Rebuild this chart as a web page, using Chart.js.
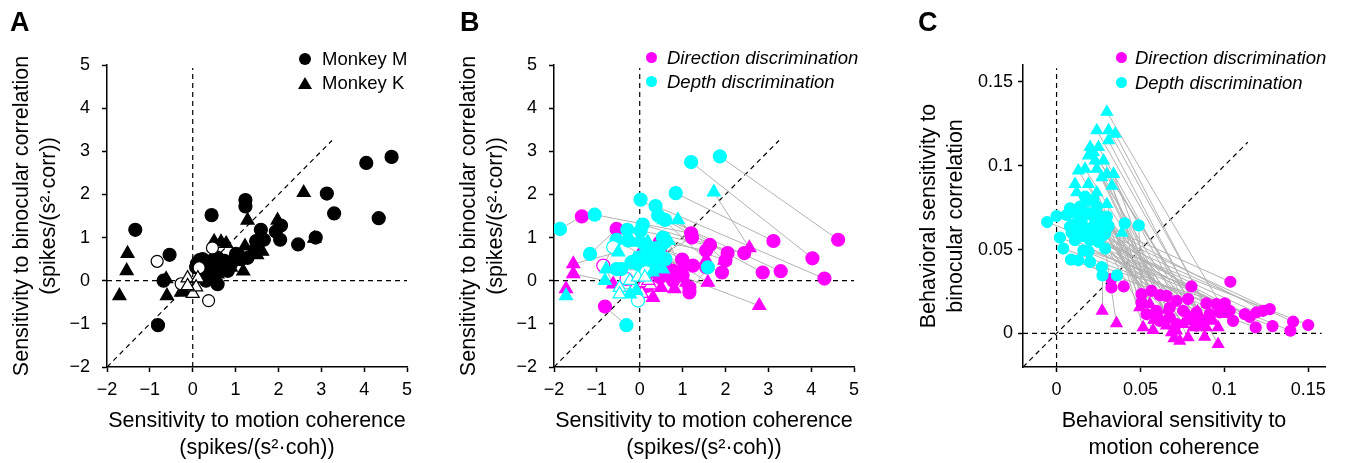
<!DOCTYPE html>
<html>
<head>
<meta charset="utf-8">
<script src="https://cdn.jsdelivr.net/npm/chart.js@4/dist/chart.umd.min.js"></script>
<style>
body{margin:0;background:#fff;font-family:'Liberation Sans',Arial,sans-serif;color:#000}
#wrap{position:relative;width:1345px;height:463px;overflow:hidden}
canvas{position:absolute;top:0}
.tag{position:absolute;font-weight:bold;font-size:27px;line-height:27px}
.txt{position:absolute;font-size:18.5px;line-height:24px;white-space:nowrap}
.it{font-style:italic}
.dot{position:absolute;border-radius:50%}
.tri{position:absolute;clip-path:polygon(50% 0,100% 100%,0 100%);background:#000}
</style>
</head>
<body>
<div id="wrap">
  <canvas id="cA" width="448" height="463" style="left:0"></canvas>
  <canvas id="cB" width="448" height="463" style="left:447px"></canvas>
  <canvas id="cC" width="445" height="463" style="left:900px"></canvas>

  <div class="tag" style="left:10px;top:9px">A</div>
  <div class="tag" style="left:460px;top:9px">B</div>
  <div class="tag" style="left:918px;top:9px">C</div>

  <div class="dot" style="left:299px;top:53px;width:12px;height:12px;background:#000"></div>
  <div class="tri" style="left:298px;top:77px;width:14px;height:12px"></div>
  <div class="txt" style="left:322px;top:47px">Monkey M</div>
  <div class="txt" style="left:322px;top:71px">Monkey K</div>

  <div class="dot" style="left:646px;top:52px;width:11px;height:11px;background:#ff00ff"></div>
  <div class="dot" style="left:646px;top:76px;width:11px;height:11px;background:#00ffff"></div>
  <div class="txt it" style="left:667px;top:46px">Direction discrimination</div>
  <div class="txt it" style="left:667px;top:70px">Depth discrimination</div>

  <div class="dot" style="left:1116px;top:52px;width:11px;height:11px;background:#ff00ff"></div>
  <div class="dot" style="left:1116px;top:77px;width:11px;height:11px;background:#00ffff"></div>
  <div class="txt it" style="left:1135px;top:46px">Direction discrimination</div>
  <div class="txt it" style="left:1135px;top:71px">Depth discrimination</div>
</div>
<script>
'use strict';
// ---- panel A: single neurons, filled = significant, open = n.s.
const aMx = [-1.34,-0.54,-0.68,-0.81,0.44,1.23,1.23,1.59,1.48,1.66,
  1.94,2.06,2.04,2.46,2.87,3.13,3.30,4.05,4.64,4.34,
  0.16,0.23,0.08,0.47,0.58,0.74,0.58,0.35,0.43,0.66,
  0.89,1.13,1.28,1.44,0.31,0.19,0.82,1.01,0.10,0.50];
const aMy = [1.18,0.60,0.00,-1.03,1.52,1.87,1.72,1.18,0.92,0.95,
  1.14,1.28,0.95,0.84,1.00,2.02,1.56,2.73,2.87,1.45,
  0.48,0.50,0.31,0.48,0.53,0.46,-0.08,0.23,0.15,0.31,
  0.39,0.50,0.53,0.70,0.00,0.23,0.23,0.62,0.40,0.35];
const aKx = [-1.71,-1.54,-1.52,-0.60,-0.27,-0.62,0.50,0.66,0.78,1.28,
  1.22,1.18,1.98,2.59,2.84,1.62,1.50,1.44,0.95,1.13,
  0.89,0.74,0.58,0.43,0.27,0.62,1.00,-0.20];
const aKy = [-0.35,0.23,0.63,-0.35,-0.27,0.04,0.91,0.90,0.86,1.40,
  0.80,0.22,1.40,2.04,0.98,0.68,0.60,0.62,0.54,0.60,
  0.31,0.23,0.15,0.08,0.04,0.40,0.45,-0.25];
const aMOx = [-0.83,-0.27,0.37,0.46,0.15];
const aMOy = [0.45,-0.07,-0.46,0.76,0.30];
const aKOx = [-0.12,0.12,0.00,0.08,-0.12];
const aKOy = [0.06,0.06,-0.30,-0.15,-0.12];

// ---- panel B: same neurons, direction task vs depth task
const bDirX = [4.03,4.63,3.12,4.31,3.29,2.87,-1.35,1.20,-0.54,-0.81,
  2.05,1.64,0.99,2.44,0.54,0.12,2.00,1.55,1.92,1.05,
  1.24,1.22,1.55,1.16,0.62,0.70,0.47,0.31,0.16,1.16,
  0.78,0.78,1.00,0.09,0.47,-0.85,-0.31,0.47,2.56,-1.55,
  -1.72,2.79,1.98,1.55,0.93,1.59,1.09,-0.62,-1.55,0.39,
  0.70,0.31,0.50,0.81,-0.15,0.10,0.05,0.25,0.20];
const bDirY = [0.52,0.95,0.92,0.05,0.22,0.19,1.49,1.10,1.20,-0.60,
  0.64,0.83,0.49,0.64,0.43,0.54,0.47,0.70,0.19,0.37,
  0.35,1.00,0.31,-0.16,0.31,0.16,0.08,0.23,-0.12,-0.27,
  0.00,0.23,0.12,0.66,0.89,0.35,0.04,0.66,0.76,0.39,
  -0.19,-0.58,0.47,0.48,0.08,-0.04,-0.04,-0.08,0.16,0.16,
  0.08,-0.39,-0.16,-0.19,-0.20,-0.05,-0.30,-0.10,0.00];
const bDepX = [1.20,1.87,0.84,0.37,0.43,0.59,-1.86,-1.05,-1.16,-0.31,
  0.02,0.07,-0.29,0.02,-0.27,-0.54,0.54,0.58,0.47,0.16,
  0.00,0.39,0.27,0.31,-0.04,0.08,-0.19,-0.54,-0.43,1.59,
  0.35,0.20,0.45,0.10,0.60,-0.62,-0.04,0.15,1.73,-0.50,
  -1.72,0.54,0.89,0.56,-0.05,0.19,0.67,-0.78,-0.81,-0.12,
  0.27,-0.23,-0.08,0.30,-0.47,-0.47,-0.23,-0.04,0.12];
const bDepY = [2.75,2.88,2.03,1.73,1.51,1.41,1.20,1.53,0.62,-1.03,
  1.88,1.30,1.18,1.16,0.93,0.95,1.00,0.89,0.78,0.62,
  0.54,0.54,0.47,0.35,0.39,0.31,0.43,0.27,0.27,0.31,
  0.75,0.40,0.60,0.85,0.50,0.78,-0.46,0.20,2.05,0.66,
  -0.35,0.27,1.41,1.41,0.89,0.89,0.93,0.27,0.00,0.50,
  0.58,-0.31,-0.23,0.20,-0.16,-0.31,0.00,0.08,0.08];
const bShape = ('cccccccccc' + 'cccccccccc' + 'cccccccccc' +
  'cccccccctt' + 'tttttttttt' + 'ttttttttt').split('');
const bOpen = [0,0,0,0,0,0,0,0,0,0, 0,0,0,0,0,0,0,0,0,0,
  0,0,0,0,0,0,0,0,0,0, 0,0,0,0,0,1,1,1,0,0,
  0,0,0,0,0,0,0,0,0,0, 0,0,0,0,1,1,1,1,1];

// ---- panel C: behavioural sensitivities per session
const cDepX = [0.030,0.024,0.031,0.035,0.031,0.025,0.020,0.022,0.019,0.023,
  0.028,0.017,0.024,0.013,0.030,0.034,0.027,0.011,0.019,0.033,
  0.012,0.024,0.017,0.030,0.039,
  -0.0056,0.000,0.002,0.004,0.006,0.008,0.008,0.0086,0.009,0.010,
  0.011,0.012,0.013,0.013,0.014,0.015,0.016,0.016,0.017,0.018,
  0.018,0.019,0.020,0.021,0.022,0.022,0.023,0.024,0.025,0.026,
  0.026,0.027,0.029,0.030,0.031,0.0406,0.049,
  0.027,0.036,0.0274,0.029,0.020];
const cDepY = [0.132,0.121,0.121,0.119,0.115,0.111,0.111,0.108,0.106,0.103,
  0.103,0.098,0.098,0.097,0.095,0.095,0.093,0.089,0.089,0.088,
  0.084,0.084,0.078,0.077,0.060,
  0.0664,0.070,0.0572,0.0506,0.0706,0.0746,0.0636,0.044,0.060,0.065,
  0.0556,0.0716,0.0616,0.0436,0.0756,0.0676,0.058,0.0496,0.0816,0.072,
  0.0626,0.049,0.0556,0.0706,0.0796,0.0606,0.066,0.0756,0.0546,0.0696,
  0.0646,0.058,0.0596,0.0696,0.064,0.0656,0.0644,
  0.0396,0.0346,0.0346,0.0506,0.0426];
const cDirX = [0.1012,0.0963,0.0963,0.0933,0.0893,0.0883,0.0854,0.0840,0.0814,0.0784,
  0.0790,0.0754,0.0734,0.0715,0.0700,0.0685,0.0660,0.0655,0.0620,0.0595,
  0.0575,0.0580,0.0556,0.0516,0.0496,
  0.150,0.141,0.1394,0.1287,0.1271,0.1231,0.1191,0.1187,0.1152,0.1122,
  0.1052,0.1036,0.1032,0.1003,0.0973,0.0953,0.0913,0.0893,0.0873,0.0834,
  0.0834,0.0804,0.0794,0.0784,0.0754,0.0715,0.0715,0.0675,0.0675,0.0655,
  0.0615,0.0615,0.0595,0.0565,0.0536,0.0506,0.0506,
  0.0327,0.040,0.0272,0.0357,0.0327];
const cDirY = [0.0115,-0.0064,0.0036,0.0075,0.0036,-0.0020,0.0095,0.0130,0.0036,-0.0024,
  0.0100,0.0056,-0.0044,0.0016,-0.0030,0.0006,0.0140,0.0046,0.0090,0.0115,
  0.0020,0.0080,0.0175,0.0036,0.0155,
  0.005,0.007,0.0016,0.0044,0.0145,0.0135,0.0125,0.0036,0.0099,0.0115,
  0.0075,0.0308,0.0135,0.0179,0.0125,0.0175,0.0115,0.0179,0.0075,0.0046,
  0.0125,0.028,0.0085,0.0205,0.0135,0.0056,0.0195,0.0095,0.0155,0.0224,
  0.0075,0.0228,0.0135,0.0254,0.0115,0.0185,0.0234,
  0.0324,0.028,0.0135,0.006,0.0274];
const cDepShape = ('tttttttttttttttttttttttttc' + 'cccccccccccccccccccccccccccccccccccccccccc').slice(0, 67).split('');
const cDirShape = ('ttttttttttttttttttttttttt' + 'ccccccccccccccccccccccccccccccccccccc' + 'cc' + 'tt' + 'c').split('');

// ticks
const abTicks = [-2, -1, 0, 1, 2, 3, 4, 5];
const cTicks = [0, 0.05, 0.1, 0.15];

// ---- drawing helpers
const FONT = "'Liberation Sans', Arial, sans-serif";
const MAG = '#ff00ff', CYA = '#00ffff', GRAY = '#b2b2b2';
const fmt = v => String(v).replace('-', '\u2212');
const zip = (xs, ys) => xs.map((x, i) => ({x: x, y: ys[i]}));
const segs = list => list.flatMap(s => [{x: s[0], y: s[1]}, {x: s[2], y: s[3]}, {x: s[2], y: null}]);

const dashed = list => ({
  type: 'line', data: segs(list), showLine: true, spanGaps: false,
  borderColor: '#000', borderWidth: 1.2, borderDash: [5, 4],
  pointRadius: 0, order: 20
});

const pairLines = (x1, y1, x2, y2) => ({
  type: 'line', showLine: true, spanGaps: false,
  data: segs(x1.map((x, i) => [x, y1[i], x2[i], y2[i]])),
  borderColor: GRAY, borderWidth: 1, pointRadius: 0, order: 10
});

const marks = (data, shapes, fill, stroke, rc, rt, order) => ({
  data: data, order: order,
  pointStyle: c => shapes[c.dataIndex] === 't' ? 'triangle' : 'circle',
  pointRadius: c => shapes[c.dataIndex] === 't' ? rt : rc,
  pointBackgroundColor: fill,
  pointBorderColor: stroke,
  pointBorderWidth: 1.2
});

function scales(o) {
  const tickFont = {family: FONT, size: 18};
  const titleFont = {family: FONT, size: 21.5, lineHeight: 1.27};
  const common = {
    type: 'linear',
    grid: {display: true, drawOnChartArea: false, drawTicks: true, tickLength: 5, tickColor: '#000', tickWidth: 1.5},
    border: {display: true, color: '#000', width: 1.5}
  };
  return {
    x: Object.assign({}, common, {
      min: o.min, max: o.max,
      afterBuildTicks: s => { s.ticks = o.ticks.map(v => ({value: v})); },
      afterFit: s => { s.height = 96; },
      ticks: {color: '#000', font: tickFont, padding: 7, maxRotation: 0, autoSkip: false, callback: fmt},
      title: {display: true, text: o.xtitle, color: '#000', font: titleFont, padding: {top: 0, bottom: 1}}
    }),
    y: Object.assign({}, common, {
      min: o.min, max: o.max,
      afterBuildTicks: s => { s.ticks = o.ticks.map(v => ({value: v})); },
      afterFit: s => { s.width = o.yw; },
      ticks: {color: '#000', font: tickFont, padding: o.ypad, autoSkip: false, callback: fmt},
      title: {display: true, text: o.ytitle, color: '#000', font: titleFont, padding: {top: o.ytp, bottom: 0}}
    })
  };
}

function draw(id, datasets, o) {
  new Chart(document.getElementById(id), {
    type: 'scatter',
    data: {datasets: datasets},
    options: {
      responsive: false, animation: false, devicePixelRatio: 1, events: [],
      layout: {padding: {top: 65, left: 0, right: o.right, bottom: 0}},
      plugins: {legend: {display: false}, tooltip: {enabled: false}},
      scales: scales(o)
    }
  });
}

const abRefs = [[-2, 0, 5, 0], [0, -2, 0, 4.93], [-2, -2, 3.25, 3.25]];
const cRefs = [[-0.02, 0, 0.158, 0], [0, -0.02, 0, 0.158], [-0.02, -0.02, 0.114, 0.114]];
const abTitles = {
  xtitle: ['Sensitivity to motion coherence', '(spikes/(s\u00b2\u00b7coh))'],
  ytitle: ['Sensitivity to binocular correlation', '(spikes/(s\u00b2\u00b7corr))']
};

// A
draw('cA', [
  dashed(abRefs),
  marks(zip(aMx, aMy), aMx.map(() => 'c'), '#000', '#000', 6.5, 7.5, 4),
  marks(zip(aKx, aKy), aKx.map(() => 't'), '#000', '#000', 6.5, 7.5, 3),
  marks(zip(aMOx, aMOy), aMOx.map(() => 'c'), '#fff', '#000', 6, 7.5, 2),
  marks(zip(aKOx, aKOy), aKOx.map(() => 't'), '#fff', '#000', 6, 7.5, 1)
], Object.assign({min: -2, max: 5, ticks: abTicks, yw: 107, ytp: 8.5, ypad: 12, right: 41}, abTitles));

// B
draw('cB', [
  dashed(abRefs),
  pairLines(bDirX, bDirY, bDepX, bDepY),
  marks(zip(bDirX, bDirY), bShape, bOpen.map(v => v ? '#fff' : MAG), MAG, 6.5, 7.5, 2),
  marks(zip(bDepX, bDepY), bShape, bOpen.map(v => v ? '#fff' : CYA), CYA, 6.5, 7.5, 1)
], Object.assign({min: -2, max: 5, ticks: abTicks, yw: 107, ytp: 8.5, ypad: 12, right: 41}, abTitles));

// C
draw('cC', [
  dashed(cRefs),
  pairLines(cDirX, cDirY, cDepX, cDepY),
  marks(zip(cDirX, cDirY), cDirShape, MAG, MAG, 5.5, 6.5, 2),
  marks(zip(cDepX, cDepY), cDepShape, CYA, CYA, 5.5, 6.5, 1)
], {min: -0.02, max: 0.16, ticks: cTicks, yw: 123, ytp: 15.5, ypad: 5, right: 20,
  xtitle: ['Behavioral sensitivity to', 'motion coherence'],
  ytitle: ['Behavioral sensitivity to', 'binocular correlation']});
</script>
</body>
</html>
